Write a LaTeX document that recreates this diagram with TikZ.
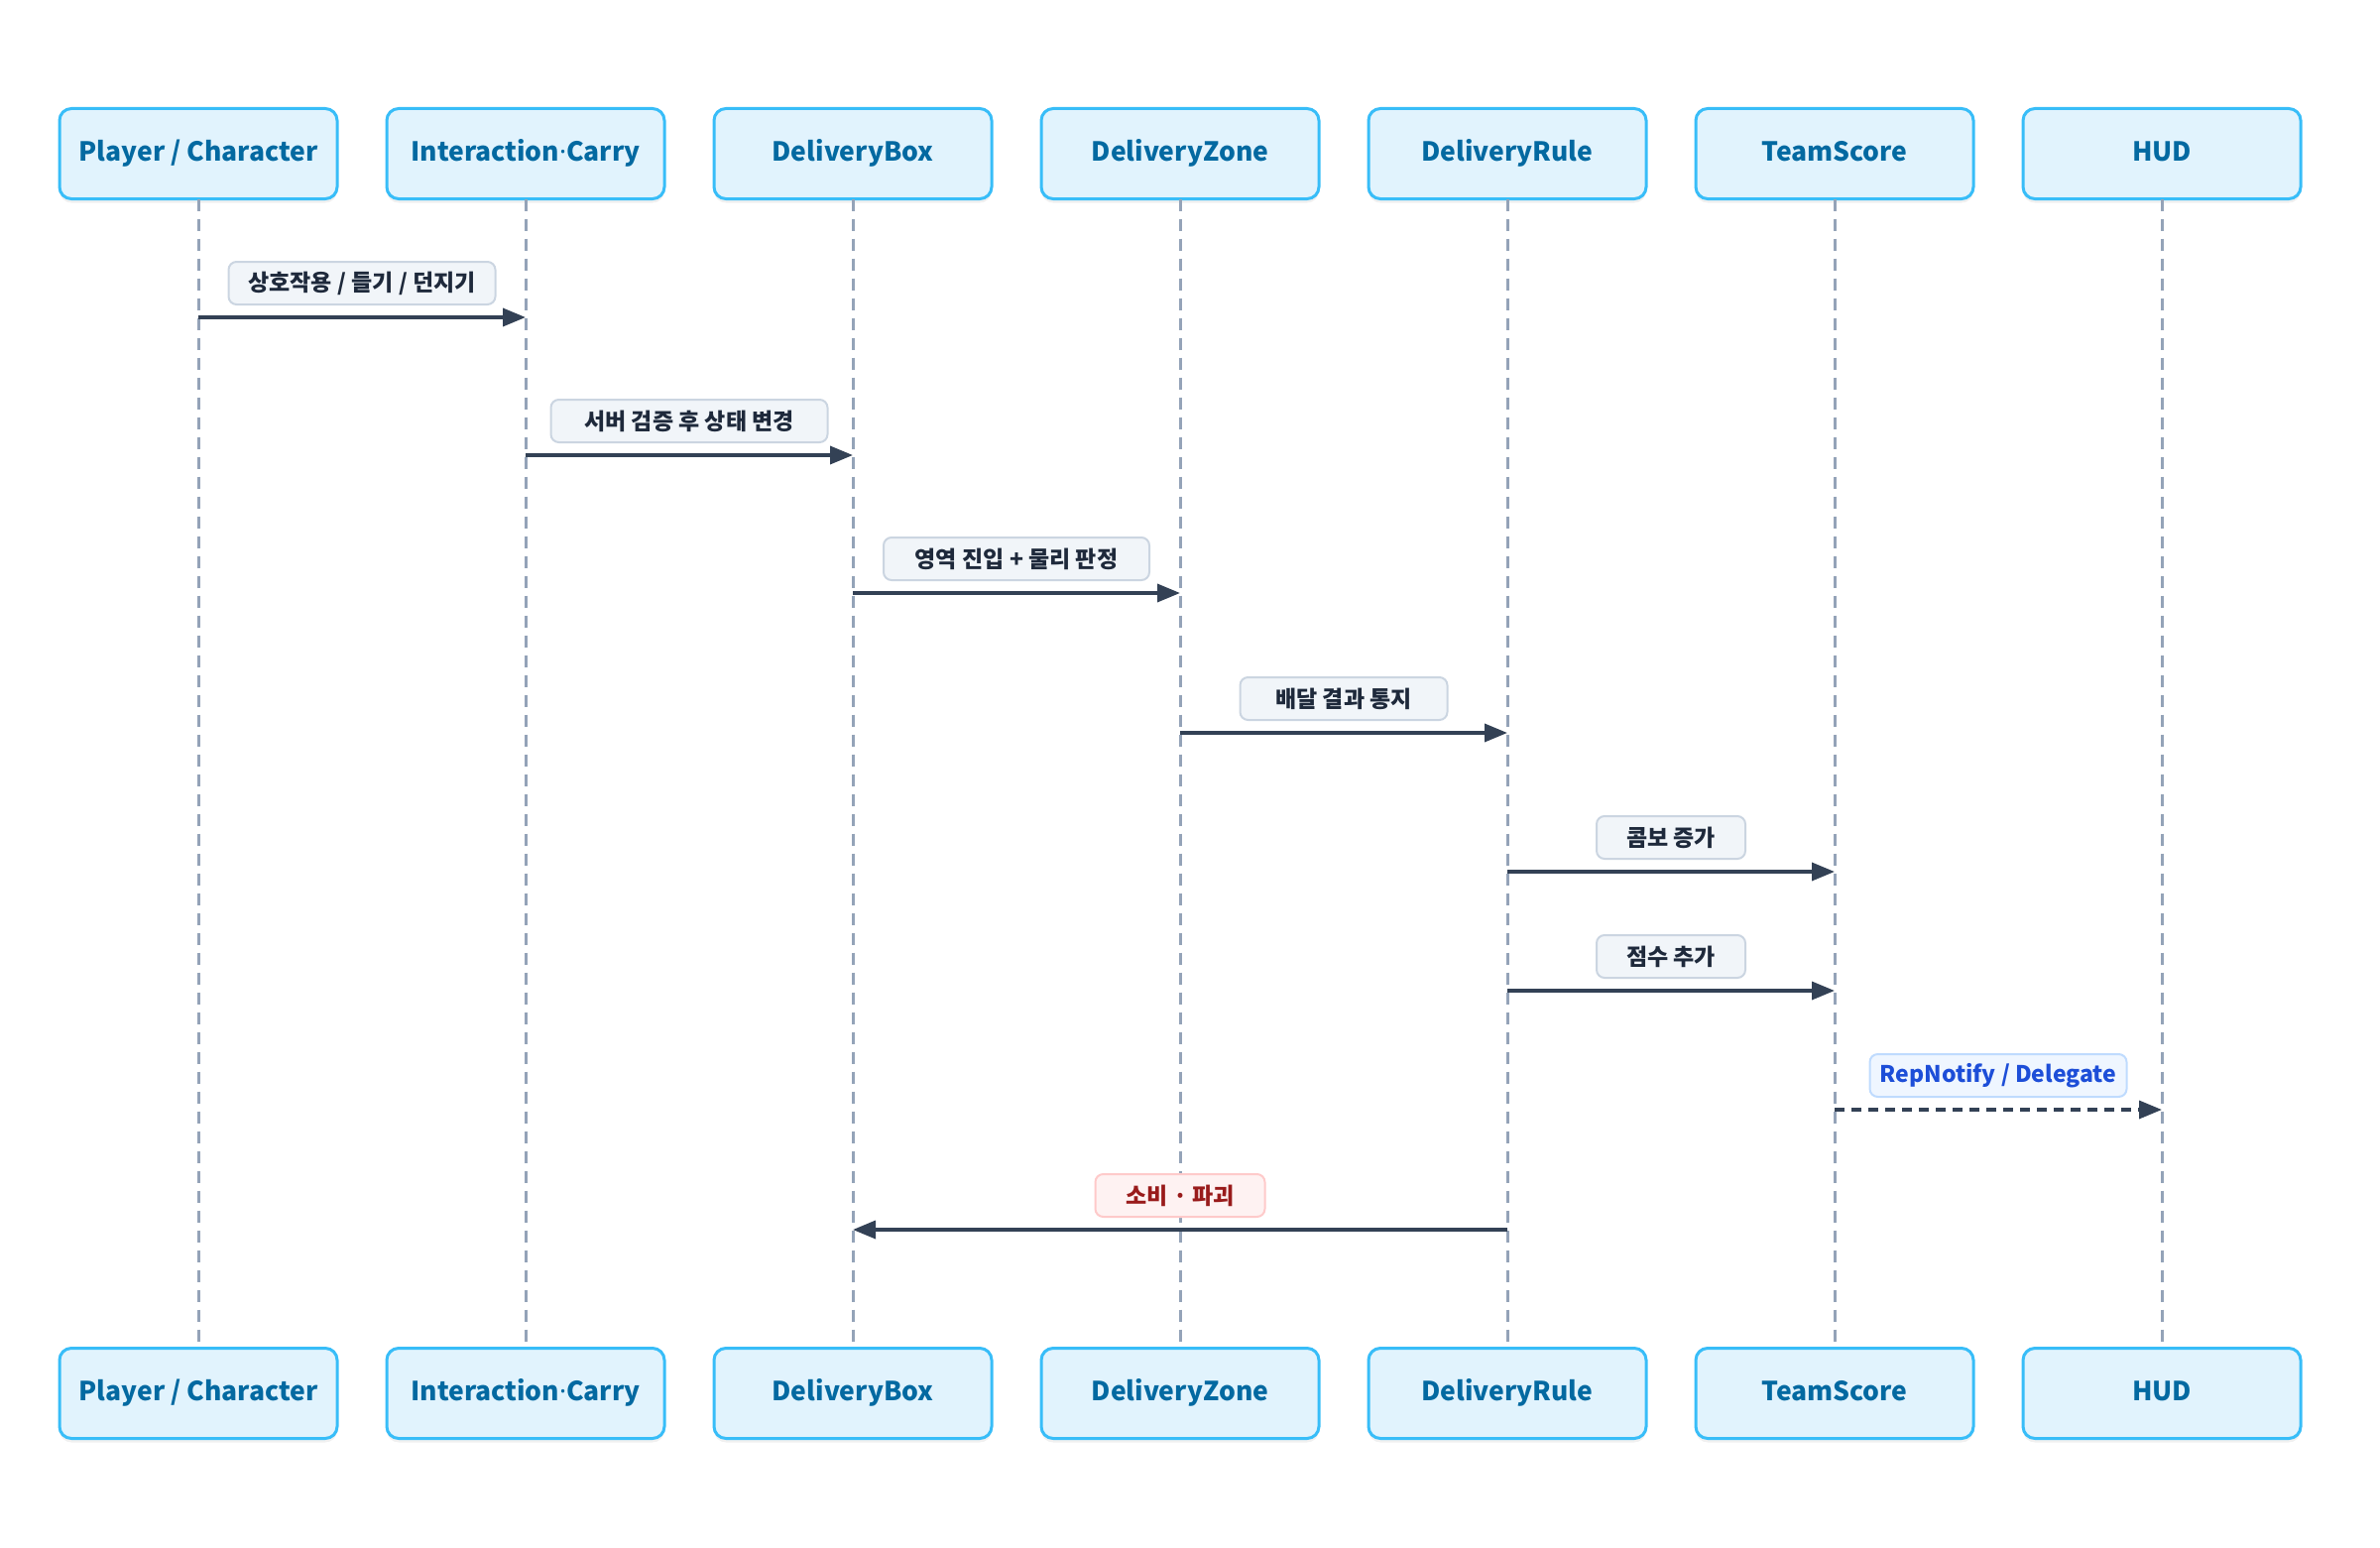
\documentclass[tikz,border=0pt]{standalone}
\usepackage{fontspec}
\setmainfont{Noto Sans CJK KR}
\newfontfamily\dotfont{Noto Sans}
\usetikzlibrary{arrows.meta,positioning,shadows}
\definecolor{actorfill}{HTML}{E1F3FD}
\definecolor{actorline}{HTML}{38BDF8}
\definecolor{actortext}{HTML}{0369A1}
\definecolor{lifeline}{HTML}{94A3B8}
\definecolor{msgline}{HTML}{334155}
\definecolor{lblfill}{HTML}{F1F5F9}
\definecolor{lblline}{HTML}{CBD5E1}
\definecolor{lbltext}{HTML}{1E293B}
\definecolor{repfill}{HTML}{EFF6FF}
\definecolor{repline}{HTML}{BFDBFE}
\definecolor{reptext}{HTML}{1D4ED8}
\definecolor{killfill}{HTML}{FEF2F2}
\definecolor{killline}{HTML}{FECACA}
\definecolor{killtext}{HTML}{991B1B}
\newcommand{\middot}{{\dotfont\bfseries ·}}

\begin{document}
\begin{tikzpicture}[
  x=1pt, y=-1pt,
  node distance=50pt,
  actor/.style={draw=actorline,fill=actorfill,line width=3pt,rounded corners=12pt,
    minimum width=280pt,minimum height=91pt,inner sep=0pt,outer sep=0pt,text=actortext,
    text height=18pt,text depth=3.5pt,
    font=\fontsize{26.5}{32}\selectfont\bfseries,
    drop shadow={shadow xshift=0pt,shadow yshift=-4pt,opacity=0.06,fill=black}},
  lbl/.style={solid,draw=lblline,fill=lblfill,line width=2pt,rounded corners=8pt,
    minimum height=43pt,inner xsep=10pt,inner ysep=0pt,text=lbltext,
    font=\fontsize{23}{27}\selectfont\bfseries},
  replbl/.style={lbl,draw=repline,fill=repfill,text=reptext},
  killlbl/.style={lbl,draw=killline,fill=killfill,text=killtext},
  life/.style={draw=lifeline,line width=3pt,dash pattern=on 12pt off 8pt},
  msg/.style={draw=msgline,line width=3.5pt,-{Triangle[length=23pt,width=18pt]}},
  async/.style={msg,dash pattern=on 10pt off 7pt}
]
  \useasboundingbox (0,0) rectangle (2400,1560);

  % participants, top row
  \node[actor] (player) at (200,155) {Player / Character};
  \node[actor] (carry) [right=of player] {Interaction\middot Carry};
  \node[actor] (box) [right=of carry] {DeliveryBox};
  \node[actor] (zone) [right=of box] {DeliveryZone};
  \node[actor] (rule) [right=of zone] {DeliveryRule};
  \node[actor] (score) [right=of rule] {TeamScore};
  \node[actor] (hud) [right=of score] {HUD};

  % participants, bottom row
  \node[actor] (player-b) [below=1159pt of player] {Player / Character};
  \node[actor] (carry-b) [right=of player-b] {Interaction\middot Carry};
  \node[actor] (box-b) [right=of carry-b] {DeliveryBox};
  \node[actor] (zone-b) [right=of box-b] {DeliveryZone};
  \node[actor] (rule-b) [right=of zone-b] {DeliveryRule};
  \node[actor] (score-b) [right=of rule-b] {TeamScore};
  \node[actor] (hud-b) [right=of score-b] {HUD};

  % lifelines
  \foreach \n in {player,carry,box,zone,rule,score,hud}
    \path[life] (\n.south) -- (\n-b.north);

  % messages
  \path[msg] (player |- 0,320) -- node[lbl,minimum width=269pt,midway,above=12pt] {상호작용 / 들기 / 던지기} (carry |- 0,320);
  \path[msg] (carry |- 0,459) -- node[lbl,minimum width=279pt,midway,above=12pt] {서버 검증 후 상태 변경} (box |- 0,459);
  \path[msg] (box |- 0,598) -- node[lbl,minimum width=268pt,midway,above=12pt] {영역 진입 + 물리 판정} (zone |- 0,598);
  \path[msg] (zone |- 0,739) -- node[lbl,minimum width=209pt,midway,above=12pt] {배달 결과 통지} (rule |- 0,739);
  \path[msg] (rule |- 0,879) -- node[lbl,minimum width=150pt,midway,above=12pt] {콤보 증가} (score |- 0,879);
  \path[msg] (rule |- 0,999) -- node[lbl,minimum width=150pt,midway,above=12pt] {점수 추가} (score |- 0,999);
  \path[async] (score |- 0,1119) -- node[replbl,minimum width=259pt,midway,above=12pt] {RepNotify / Delegate} (hud |- 0,1119);
  \path[msg] (rule |- 0,1240) -- node[killlbl,minimum width=171pt,midway,above=12pt] {소비 · 파괴} (box |- 0,1240);
\end{tikzpicture}
\end{document}
